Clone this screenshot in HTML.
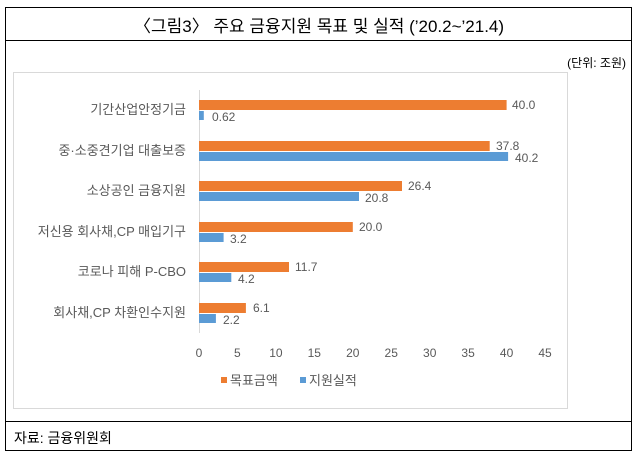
<!DOCTYPE html>
<html><head><meta charset="utf-8"><style>
body{margin:0;background:#fff;font-family:"Liberation Sans","Noto Sans CJK KR","NanumGothic",sans-serif;}
.wrap{position:relative;width:638px;height:458px;overflow:hidden}
.abs{position:absolute}
.lbl{position:absolute;font-size:12px;color:#595959;white-space:nowrap}
</style></head><body><div class="wrap">
<div class="abs" style="left:5px;top:7px;width:625px;height:442px;border:1px solid #000"></div>
<div class="abs" style="left:5px;top:40px;width:627px;border-top:1px solid #000"></div>
<div class="abs" style="left:5px;top:421px;width:627px;border-top:1px solid #000"></div>
<div class="abs" style="left:0;top:12px;width:638px;text-align:center;font-size:17px;color:#000">〈그림3〉 주요 금융지원 목표 및 실적 (’20.2~’21.4)</div>
<div class="abs" style="right:12px;top:54px;font-size:12px;color:#000">(단위: 조원)</div>
<div class="abs" style="left:13px;top:72px;width:553px;height:335px;border:1px solid #d9d9d9"></div>
<div class="abs" style="left:14px;top:428px;font-size:14px;color:#000">자료: 금융위원회</div>
<svg class="abs" style="left:0;top:0" width="638" height="458">
<line x1="199.5" y1="90" x2="199.5" y2="333" stroke="#d9d9d9"/>
<g font-family="Liberation Sans,Noto Sans CJK KR,sans-serif" font-size="12" fill="#595959">
<rect x="199" y="100" width="307.6" height="10" fill="#ed7d31"/><rect x="199" y="111" width="4.8" height="9" fill="#5b9bd5"/>
<text x="512" y="109">40.0</text><text x="212" y="121">0.62</text>
<rect x="199" y="141" width="290.7" height="10" fill="#ed7d31"/><rect x="199" y="152" width="309.1" height="9" fill="#5b9bd5"/>
<text x="496" y="150">37.8</text><text x="515" y="162">40.2</text>
<rect x="199" y="181" width="203" height="10" fill="#ed7d31"/><rect x="199" y="192" width="160" height="9" fill="#5b9bd5"/>
<text x="408" y="190">26.4</text><text x="365" y="202">20.8</text>
<rect x="199" y="222" width="153.8" height="10" fill="#ed7d31"/><rect x="199" y="233" width="24.6" height="9" fill="#5b9bd5"/>
<text x="359" y="231">20.0</text><text x="230" y="243">3.2</text>
<rect x="199" y="262" width="90" height="10" fill="#ed7d31"/><rect x="199" y="273" width="32.3" height="9" fill="#5b9bd5"/>
<text x="295" y="271">11.7</text><text x="238" y="283">4.2</text>
<rect x="199" y="303" width="46.9" height="10" fill="#ed7d31"/><rect x="199" y="314" width="16.9" height="9" fill="#5b9bd5"/>
<text x="253" y="312">6.1</text><text x="223" y="324">2.2</text>
<g text-anchor="end" font-size="13">
<text x="186" y="114">기간산업안정기금</text>
<text x="186" y="155">중·소중견기업 대출보증</text>
<text x="186" y="195">소상공인 금융지원</text>
<text x="186" y="236">저신용 회사채,CP 매입기구</text>
<text x="186" y="276">코로나 피해 P-CBO</text>
<text x="186" y="317">회사채,CP 차환인수지원</text>
</g>
<g text-anchor="middle">
<text x="199" y="357">0</text><text x="237.4" y="357">5</text><text x="275.9" y="357">10</text><text x="314.3" y="357">15</text><text x="352.8" y="357">20</text><text x="391.2" y="357">25</text><text x="429.7" y="357">30</text><text x="468.1" y="357">35</text><text x="506.6" y="357">40</text><text x="545" y="357">45</text>
</g>
<rect x="221" y="377" width="6" height="6" fill="#ed7d31"/><text x="230" y="385" font-size="13">목표금액</text>
<rect x="300" y="377" width="6" height="6" fill="#5b9bd5"/><text x="309" y="385" font-size="13">지원실적</text>
</g></svg>
</div></body></html>
